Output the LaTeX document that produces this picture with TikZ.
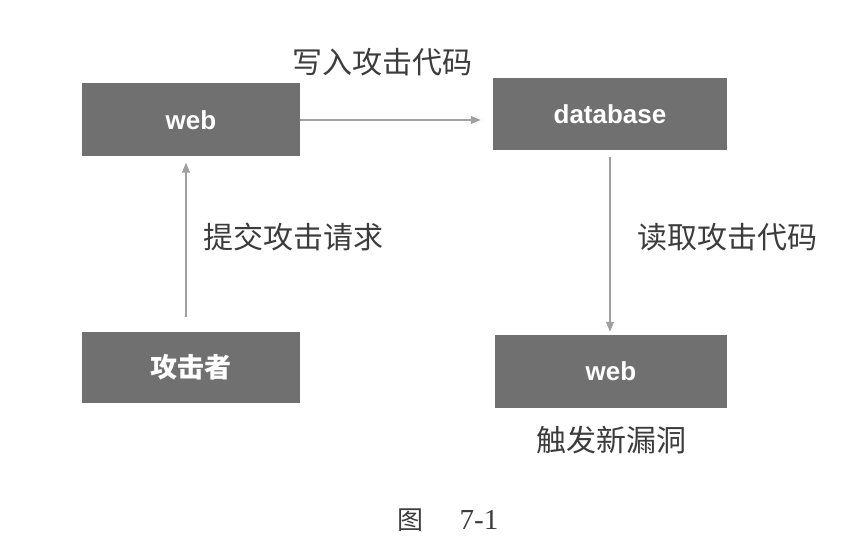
\documentclass[tikz,border=0pt]{standalone}
\usepackage{fontspec}
\setmainfont{Liberation Sans}
\newfontfamily\cjk{Noto Sans CJK SC}
\newfontfamily\capserif{Liberation Serif}
\usetikzlibrary{arrows.meta,positioning}
\definecolor{boxgray}{RGB}{112,112,112}
\definecolor{arrgray}{RGB}{160,160,160}
\definecolor{txtgray}{RGB}{60,60,60}
\begin{document}
\begin{tikzpicture}[x=1pt,y=1pt,>={Triangle[length=10pt,width=8pt]},
box/.style={fill=boxgray,minimum width=218pt,minimum height=73pt,text=white,font=\fontsize{26}{28}\selectfont\bfseries},
cbox/.style={box,font=\fontsize{27}{29}\selectfont\cjk\bfseries},
lbl/.style={text=txtgray,font=\fontsize{30}{32}\selectfont\cjk},
arr/.style={->,draw=arrgray,fill=arrgray,line width=1.2pt}]
\useasboundingbox (0,0) rectangle (867,557);
\node[box] (w1) at (191,437) {web};
\node[box,minimum width=234pt,minimum height=72pt] (db) at (610,443) {database};
\node[cbox,minimum height=71pt] (atk) at (191,189.5) {攻击者};
\node[box,minimum width=232pt] (w2) at (611,185.5) {web};
\node[lbl] (write) at (382,495) {写入攻击代码};
\node[lbl] (submit) at (293,320) {提交攻击请求};
\node[lbl] (read) at (727,320) {读取攻击代码};
\node[lbl,below=14pt of w2] (trigger) {触发新漏洞};
\node[text=txtgray] (cap) at (448,37) {\fontsize{26}{28}\selectfont\cjk 图\hspace{36pt}\fontsize{29}{31}\selectfont\capserif 7-1};
\draw[arr,shorten >=12pt] (w1.east) -- (w1.east -| db.west);
\draw[arr,shorten <=15pt,shorten >=6pt] ([xshift=-5pt]atk.north) -- ([xshift=-5pt]w1.south);
\draw[arr,shorten <=7pt,shorten >=3pt] (db.south) -- (db.south |- w2.north);
\end{tikzpicture}
\end{document}
